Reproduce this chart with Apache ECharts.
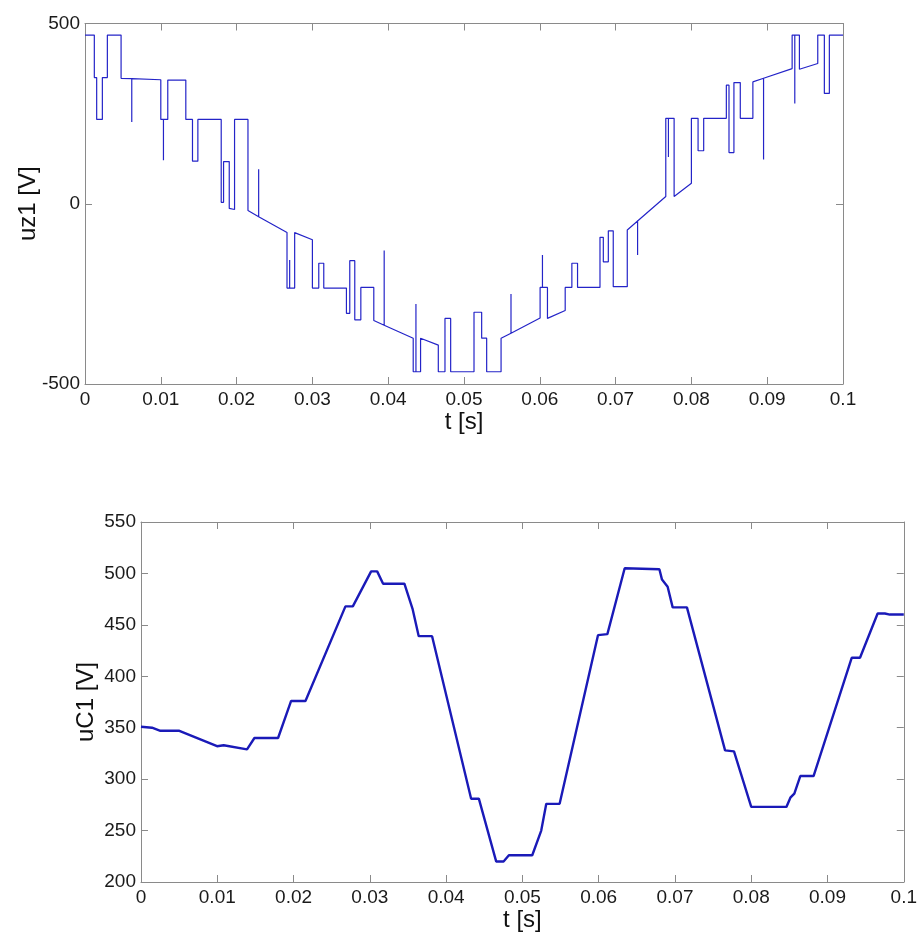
<!DOCTYPE html>
<html>
<head>
<meta charset="utf-8">
<script src="https://cdn.jsdelivr.net/npm/echarts@6/dist/echarts.min.js"></script>
<style>
  html, body { margin: 0; padding: 0; background: #fff; }
  #chart { width: 920px; height: 933px; }
</style>
</head>
<body>
<div id="chart"></div>
<script>
// top plot: uz1 (switched output voltage), time in s / value in V
const tz1 = [
  0, 0.00123, 0.00123, 0.00154, 0.00154, 0.00229, 0.00229, 0.00295, 0.00295, 0.00476,
  0.00476, 0.00617, 0.00617, 0.00617, 0.0100, 0.0100, 0.01035, 0.01035, 0.01035, 0.01092,
  0.01092, 0.0133, 0.0133, 0.01418, 0.01418, 0.01489, 0.01489, 0.01797, 0.01797, 0.01828,
  0.01828, 0.01903, 0.01903, 0.01973, 0.01973, 0.0215, 0.0215, 0.02291, 0.02291, 0.02291,
  0.02665, 0.02665, 0.027, 0.027, 0.027, 0.02766, 0.02766, 0.03, 0.03, 0.03084,
  0.03084, 0.0315, 0.0315, 0.03449, 0.03449, 0.03493, 0.03493, 0.03559, 0.03559, 0.03639,
  0.03639, 0.0381, 0.0381, 0.03947, 0.03947, 0.03947, 0.0433, 0.0433, 0.04366, 0.04366,
  0.04366, 0.04427, 0.04427, 0.04661, 0.04661, 0.04749, 0.04749, 0.04824, 0.04824, 0.05132,
  0.05132, 0.05233, 0.05233, 0.05299, 0.05299, 0.05489, 0.05489, 0.0562, 0.0562, 0.0562,
  0.06004, 0.06004, 0.06035, 0.06035, 0.06035, 0.06101, 0.06101, 0.06335, 0.06335, 0.06423,
  0.06423, 0.06498, 0.06498, 0.06794, 0.06794, 0.06838, 0.06838, 0.06904, 0.06904, 0.06969,
  0.06969, 0.07154, 0.07154, 0.0729, 0.0729, 0.0729, 0.07662, 0.07662, 0.07697, 0.07697,
  0.07697, 0.07772, 0.07772, 0.08, 0.08, 0.08088, 0.08088, 0.08162, 0.08162, 0.08461,
  0.08461, 0.08496, 0.08496, 0.08561, 0.08561, 0.08645, 0.08645, 0.08811, 0.08811, 0.08952,
  0.08952, 0.08952, 0.09329, 0.09329, 0.09364, 0.09364, 0.09364, 0.09425, 0.09425, 0.09667,
  0.09667, 0.09754, 0.09754, 0.0982, 0.0982, 0.1
];
const uz1 = [
  468, 468, 350, 350, 234, 234, 350, 350, 468, 468,
  348, 347, 227, 347, 344, 234, 234, 121, 234, 234,
  343, 343, 234, 234, 118, 118, 234, 234, 4, 4,
  117, 117, -13, -16, 234, 234, -19, -36, 96, -36,
  -80, -234, -234, -156, -234, -234, -80, -100, -234, -234,
  -165, -165, -234, -234, -304, -304, -158, -158, -322, -322,
  -232, -232, -324, -337, -130, -337, -373, -466, -466, -278,
  -466, -466, -373, -392, -466, -466, -318, -318, -466, -466,
  -301, -301, -373, -373, -466, -466, -373, -359, -250, -359,
  -317, -232, -232, -142, -232, -232, -318, -296, -232, -232,
  -165, -165, -232, -232, -93, -93, -161, -161, -75, -75,
  -230, -230, -73, -48, -142, -48, 20, 237, 237, 130,
  237, 237, 20, 57, 237, 237, 147, 147, 237, 237,
  329, 329, 142, 142, 336, 336, 237, 237, 338, 348,
  123, 348, 375, 468, 468, 278, 468, 468, 373, 389,
  468, 468, 306, 306, 468, 468
];

// bottom plot: uC1 (capacitor voltage)
const tc1 = [
  0, 0.00144, 0.00254, 0.00503, 0.00997, 0.01084, 0.0139, 0.0141, 0.01487, 0.01797,
  0.01968, 0.02156, 0.0268, 0.02777, 0.03017, 0.03096, 0.03174, 0.03453, 0.03562, 0.03641,
  0.03816, 0.04328, 0.04429, 0.04656, 0.04753, 0.04823, 0.05129, 0.05247, 0.05313, 0.05488,
  0.05991, 0.06114, 0.06341, 0.06796, 0.0683, 0.06904, 0.0697, 0.07157, 0.07657, 0.07774,
  0.08, 0.08461, 0.08513, 0.08565, 0.08643, 0.08817, 0.09317, 0.09426, 0.09657, 0.09752,
  0.09817, 0.1
];
const uc1 = [
  351, 350, 347, 347, 332, 333, 329, 329, 340, 340,
  376, 376, 468, 468, 502, 502, 490, 490, 465, 439,
  439, 281, 281, 220, 220, 226, 226, 250, 276, 276,
  440, 441, 505, 504, 494, 487, 467, 467, 328, 327,
  273, 273, 282, 286, 303, 303, 418, 418, 461, 461,
  460, 460
];

const tTicks = { min: 0, max: 0.1, interval: 0.01 };
const uz1Ticks = { min: -500, max: 500, interval: 500 };
const uc1Ticks = { min: 200, max: 550, interval: 50 };

const frame = '#8a8a8a';
const font = 'Liberation Sans, Arial, sans-serif';

function xAx(grid, top, name) {
  return {
    gridIndex: grid, type: 'value', position: top ? 'top' : 'bottom',
    min: tTicks.min, max: tTicks.max, interval: tTicks.interval,
    axisLine: { onZero: false, lineStyle: { color: frame, width: 1 } },
    axisTick: { inside: true, length: 7, lineStyle: { color: frame } },
    splitLine: { show: false },
    axisLabel: {
      show: !top, fontSize: 19, color: '#1a1a1a', fontFamily: font, margin: 6,
      formatter: v => String(+v.toFixed(2))
    },
    name: top ? '' : name, nameLocation: 'middle', nameGap: 26,
    nameMoveOverlap: false,
    nameTextStyle: { fontSize: 24, color: '#111', fontFamily: font }
  };
}
function yAx(grid, right, ticks, name, gap) {
  return {
    gridIndex: grid, type: 'value', position: right ? 'right' : 'left',
    min: ticks.min, max: ticks.max, interval: ticks.interval,
    axisLine: { show: true, onZero: false, lineStyle: { color: frame, width: 1 } },
    axisTick: { show: true, inside: true, length: 7, lineStyle: { color: frame } },
    splitLine: { show: false },
    axisLabel: { show: !right, fontSize: 19, color: '#1a1a1a', fontFamily: font, margin: 5 },
    name: right ? '' : name, nameLocation: 'middle', nameRotate: 90, nameGap: gap || 45,
    nameMoveOverlap: false,
    nameTextStyle: { fontSize: 24, color: '#111', fontFamily: font }
  };
}

const chart = echarts.init(document.getElementById('chart'));
chart.setOption({
  animation: false,
  backgroundColor: '#fff',
  grid: [
    { left: 85, top: 23.5, width: 758, height: 360.5 },
    { left: 141, top: 522, width: 765, height: 364 }
  ],
  xAxis: [xAx(0, false, 't [s]'), xAx(0, true), xAx(1, false, 't [s]'), xAx(1, true)],
  yAxis: [yAx(0, false, uz1Ticks, 'uz1 [V]', 45), yAx(0, true, uz1Ticks),
          yAx(1, false, uc1Ticks, 'uC1 [V]', 43), yAx(1, true, uc1Ticks)],
  series: [
    {
      type: 'line', xAxisIndex: 0, yAxisIndex: 0,
      data: tz1.map((t, i) => [t, uz1[i]]),
      showSymbol: false, symbol: 'none',
      lineStyle: { color: '#2424c8', width: 1.2 }
    },
    {
      type: 'line', xAxisIndex: 2, yAxisIndex: 2,
      data: tc1.map((t, i) => [t, uc1[i]]),
      showSymbol: false, symbol: 'none',
      lineStyle: { color: '#1a1ab8', width: 2.4 }
    }
  ]
});
</script>
</body>
</html>
